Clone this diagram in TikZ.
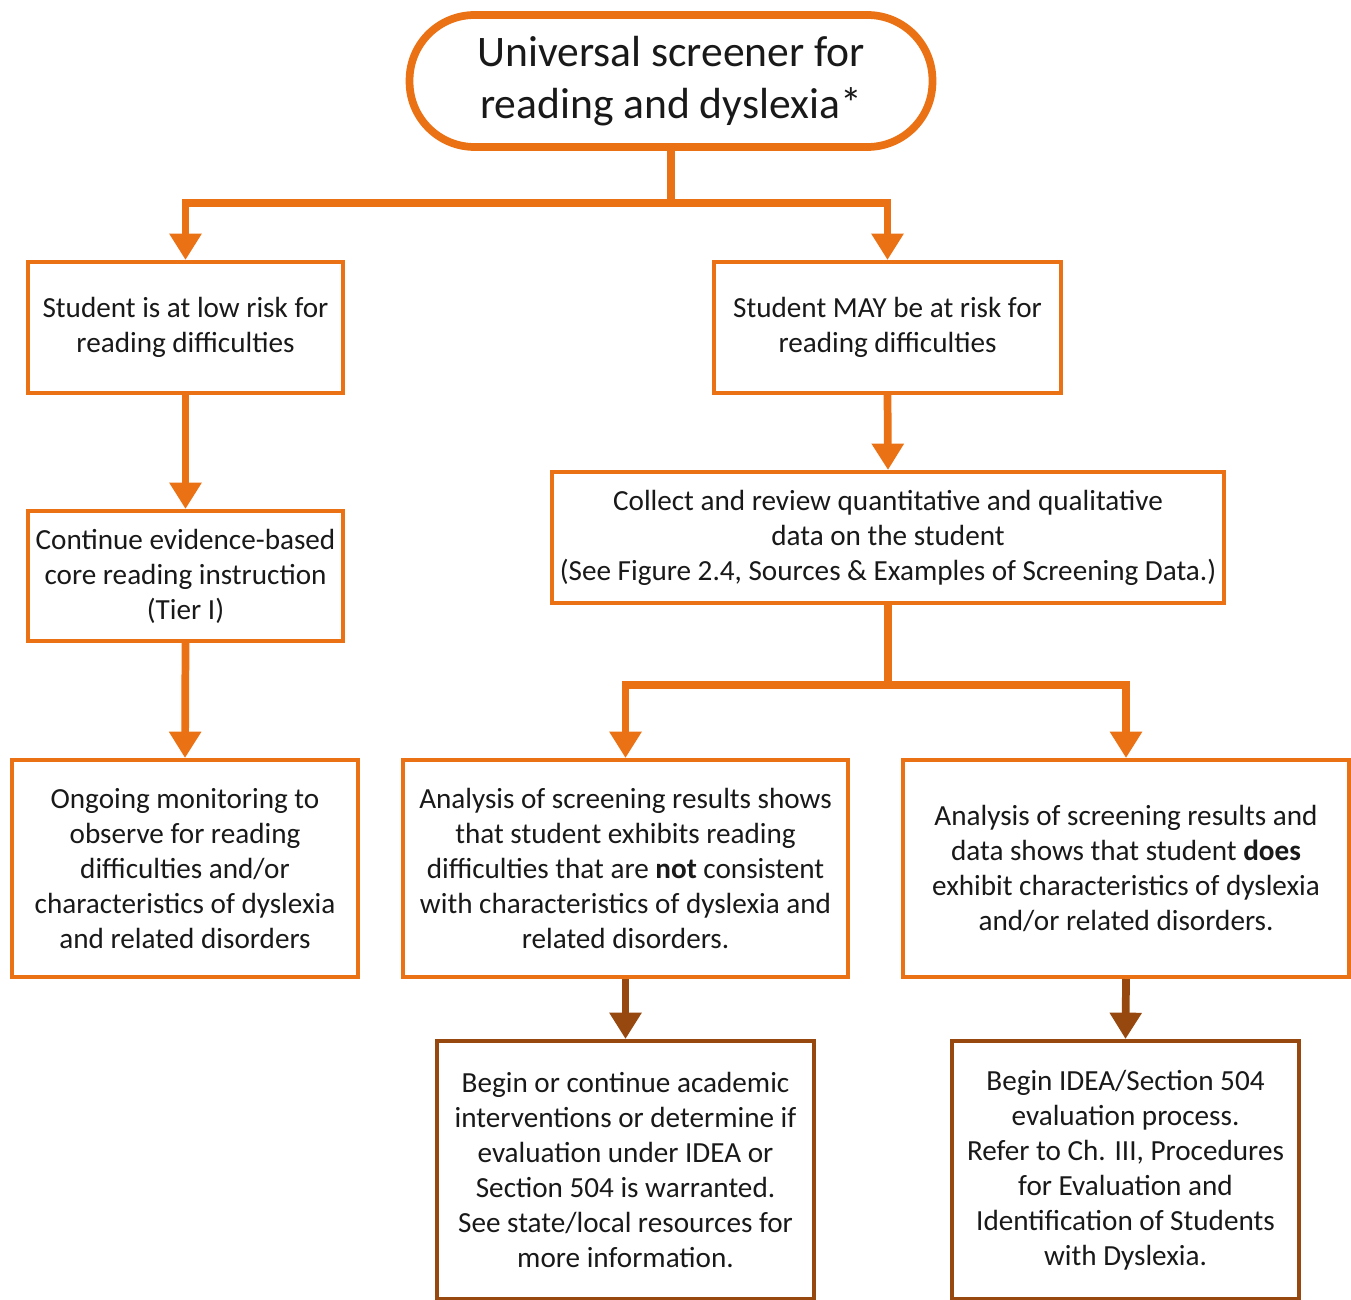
\documentclass[tikz,border=0pt]{standalone}
\usepackage{fontspec}
\setmainfont{Carlito}
\usetikzlibrary{arrows.meta}

\definecolor{scrorange}{RGB}{235,114,20}
\definecolor{scrbrown}{RGB}{150,72,14}
\definecolor{scrtext}{RGB}{25,25,25}

\tikzset{
	box/.style={draw=scrorange, line width=2.3pt, fill=white, align=center, inner sep=0pt,
		text=scrtext, font=\fontsize{16.6}{19.9}\selectfont},
	brownbox/.style={box, draw=scrbrown},
	flow/.style={draw=scrorange, line width=4.4pt, -{Triangle[width=17.5pt,length=15pt]}},
	brownflow/.style={flow, draw=scrbrown, fill=scrbrown},
}

\begin{document}
\begin{tikzpicture}[x=0.02cm, y=-0.02cm]
	\useasboundingbox (0,0) rectangle (1351,1300);
	
	\node[box, line width=4.4pt, rounded corners=1.3cm, minimum width=10.46cm, minimum height=2.64cm,
		font=\fontsize{24.8}{29.6}\selectfont] (screener) at (671,81)
		{Universal screener for\\reading and dyslexia*};
	
	\node[box, minimum width=6.3cm, minimum height=2.62cm] (lowrisk) at (185.5,327.5)
		{Student is at low risk for\\reading difficulties};
	\node[box, minimum width=6.94cm, minimum height=2.62cm] (mayrisk) at (887.5,327.5)
		{Student MAY be at risk for\\reading difficulties};
	
	\node[box, minimum width=6.3cm, minimum height=2.6cm] (core) at (185.5,576)
		{Continue evidence-based\\core reading instruction\\(Tier I)};
	\node[box, minimum width=13.44cm, minimum height=2.62cm] (collect) at (888,537.5)
		{Collect and review quantitative and qualitative\\data on the student\\(See Figure 2.4, Sources \& Examples of Screening Data.)};
	
	\node[box, minimum width=6.92cm, minimum height=4.34cm] (ongoing) at (185,868.5)
		{Ongoing monitoring to\\observe for reading\\difficulties and/or\\characteristics of dyslexia\\and related disorders};
	\node[box, minimum width=8.9cm, minimum height=4.34cm] (notdys) at (625.5,868.5)
		{Analysis of screening results shows\\that student exhibits reading\\difficulties that are \textbf{not} consistent\\with characteristics of dyslexia and\\related disorders.};
	\node[box, minimum width=8.92cm, minimum height=4.34cm] (doesdys) at (1126,868.5)
		{Analysis of screening results and\\data shows that student \textbf{does}\\exhibit characteristics of dyslexia\\and/or related disorders.};
	
	\node[brownbox, minimum width=7.54cm, minimum height=5.16cm] (interv) at (625.5,1170)
		{Begin or continue academic\\interventions or determine if\\evaluation under IDEA or\\Section 504 is warranted.\\See state/local resources for\\more information.};
	\node[brownbox, minimum width=6.94cm, minimum height=5.16cm] (evalproc) at (1125.5,1170)
		{Begin IDEA/Section 504\\evaluation process.\\Refer to Ch. III, Procedures\\for Evaluation and\\Identification of Students\\with Dyslexia.};
	
	\coordinate (split1) at (671,203);
	\coordinate (split2) at (888,685);
	
	\draw[flow] (screener.south) -- (split1) -| (lowrisk.north);
	\draw[flow] (split1) -| (mayrisk.north);
	\draw[flow] (lowrisk.south) -- (core.north);
	\draw[flow] (mayrisk.south) -- (collect.north);
	\draw[flow] (core.south) -- (ongoing.north);
	\draw[flow] (collect.south) -- (split2) -| (notdys.north);
	\draw[flow] (split2) -| (doesdys.north);
	\draw[brownflow] (notdys.south) -- (interv.north);
	\draw[brownflow] (doesdys.south) -- (evalproc.north);
\end{tikzpicture}
\end{document}
